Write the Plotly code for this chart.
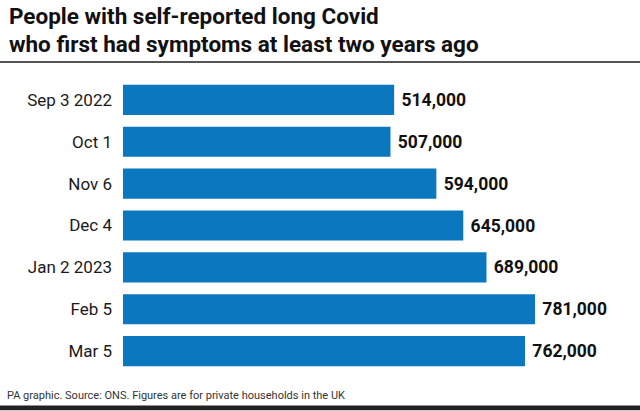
import plotly.graph_objects as go

categories = ["Sep 3 2022", "Oct 1", "Nov 6", "Dec 4", "Jan 2 2023", "Feb 5", "Mar 5"]
values = [514000, 507000, 594000, 645000, 689000, 781000, 762000]
value_labels = [f"{v:,}" for v in values]

title_lines = ["People with self-reported long Covid",
               "who first had symptoms at least two years ago"]
footer_text = "PA graphic. Source: ONS. Figures are for private households in the UK"

BLUE = "#0a77bf"
FONT = "Roboto, Arial, sans-serif"

fig = go.Figure(go.Bar(
    y=categories,
    x=values,
    orientation="h",
    marker=dict(color=BLUE, line=dict(width=0)),
    width=0.72,
    text=[" " + t for t in value_labels],
    textposition="outside",
    cliponaxis=False,
    textfont=dict(family=FONT, size=17.5, color="#111111", weight="bold"),
    hoverinfo="skip",
))

L, R, T, B = 123, 0, 78.5, 38.5
W, H = 640, 411
pw, ph = W - L - R, H - T - B

def px_x(p):
    return (p - L) / pw

def px_y(p):
    return (H - B - p) / ph

annotations = [
    dict(text=title_lines[0], xref="paper", yref="paper",
         x=px_x(7), y=px_y(15), xanchor="left", yanchor="middle", showarrow=False,
         font=dict(family=FONT, size=22.5, color="#111111", weight="bold")),
    dict(text=title_lines[1], xref="paper", yref="paper",
         x=px_x(7), y=px_y(43), xanchor="left", yanchor="middle", showarrow=False,
         font=dict(family=FONT, size=22.5, color="#111111", weight="bold")),
    dict(text=footer_text, xref="paper", yref="paper",
         x=px_x(5), y=px_y(396), xanchor="left", yanchor="middle", showarrow=False,
         font=dict(family=FONT, size=11, color="#333333")),
]

fig.update_layout(
    width=W, height=H,
    margin=dict(l=L, r=R, t=T, b=B, pad=0, autoexpand=False),
    paper_bgcolor="white",
    plot_bgcolor="white",
    showlegend=False,
    xaxis=dict(range=[0, 980000], visible=False, fixedrange=True, automargin=False),
    yaxis=dict(
        autorange="reversed", automargin=False,
        showgrid=False, zeroline=False, showline=False,
        ticks="", ticklabelstandoff=10,
        tickfont=dict(family=FONT, size=17, color="#1a1a1a"),
        fixedrange=True,
    ),
    shapes=[
        dict(type="line", xref="paper", yref="paper",
             x0=px_x(0), x1=px_x(W), y0=px_y(61.5), y1=px_y(61.5),
             line=dict(color="#555555", width=2)),
        dict(type="rect", xref="paper", yref="paper",
             x0=px_x(0), x1=px_x(W), y0=px_y(406), y1=px_y(411),
             fillcolor="#222222", line=dict(width=0)),
    ],
    annotations=annotations,
)

fig.write_html("out.html", config={"displayModeBar": False},
               post_script="document.body.style.margin='0';")
